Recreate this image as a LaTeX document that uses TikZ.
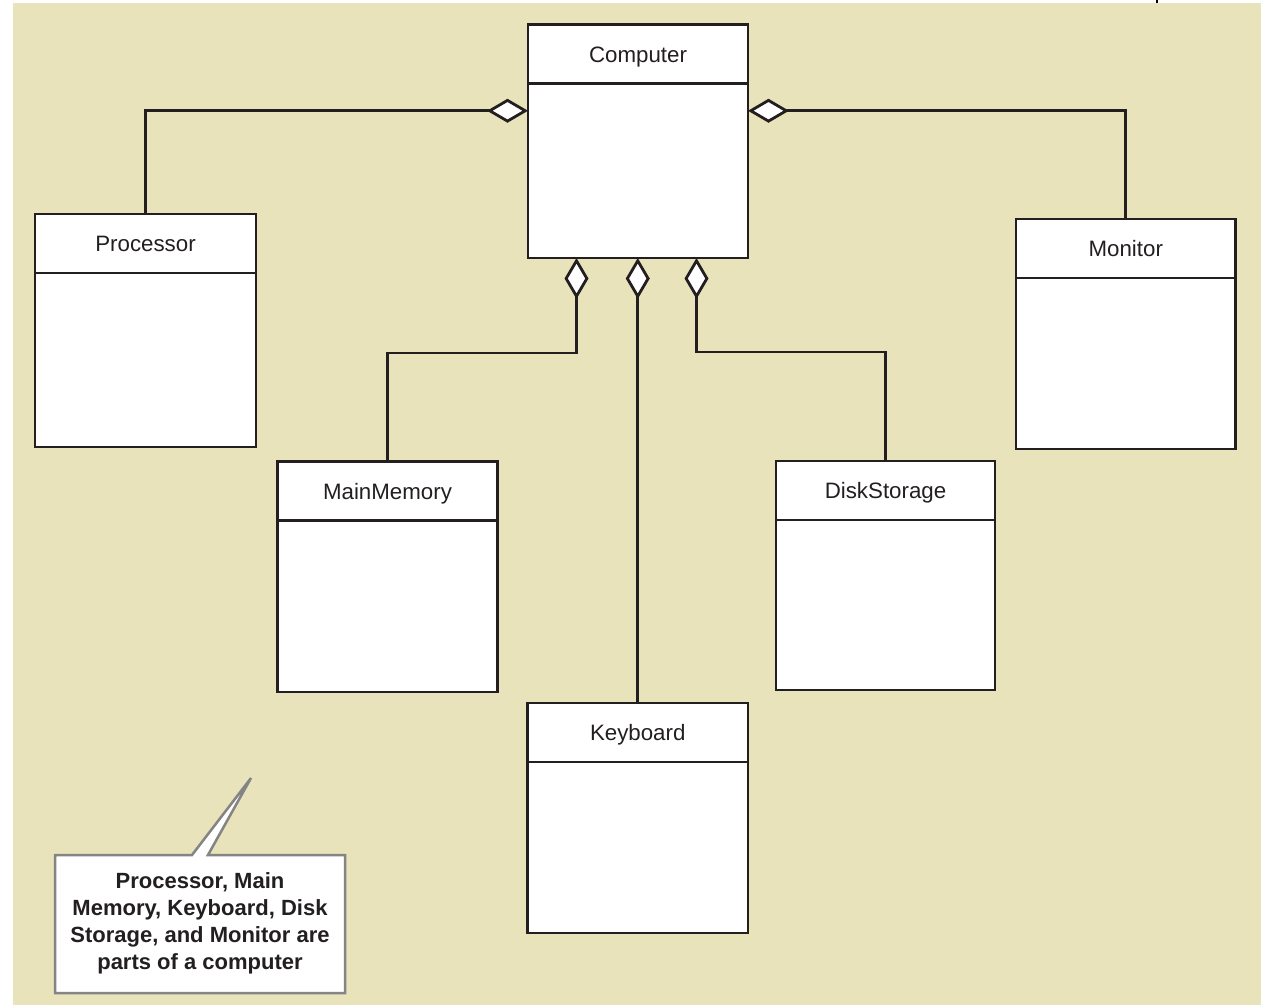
\documentclass[tikz,border=0pt]{standalone}
\usepackage{fontspec}
\setmainfont{Liberation Sans}
\usetikzlibrary{arrows.meta}
\definecolor{bg}{RGB}{232,227,187}
\definecolor{notegray}{RGB}{132,132,132}
\definecolor{ink}{RGB}{35,31,32}
\newcommand\umlclass[6]{%
  \node[classbox, minimum width=#4pt, minimum height=#5pt] (#1) at (#2,#3) {};
  \draw[ink, line width=2.8pt] ([yshift=-59pt]#1.north west) -- ([yshift=-59pt]#1.north east);
  \node[classtitle] (#1-t) at ([yshift=-37.5pt]#1.north) {#6};
}
\begin{document}
\begin{tikzpicture}[x=1pt,y=-1pt,
  classbox/.style={draw=ink, line width=2.8pt, fill=white, anchor=north west, inner sep=0pt, outer sep=0pt},
  classtitle/.style={font=\fontsize{22.3}{25}\selectfont, text=ink, anchor=base, inner sep=0pt},
  agg/.style={draw=ink, line width=2.8pt, line join=miter,
    -{Diamond[length=41pt, width=24pt, fill=white, line join=miter]}},
  notetext/.style={font=\bfseries\fontsize{22}{27}\selectfont, text=ink, align=center, inner sep=0pt}
]
\useasboundingbox (0,0) rectangle (1261,1005);
\fill[bg] (13,3) rectangle (1261,1005);
\draw[black, line width=1.5pt] (1157,0) -- (1157,3);

\umlclass{computer}{528}{24.5}{220}{233.5}{Computer}
\umlclass{processor}{35}{214}{221}{233}{Processor}
\umlclass{monitor}{1016}{219}{219.5}{230}{Monitor}
\umlclass{mainmemory}{277.5}{461.5}{220}{230.5}{MainMemory}
\umlclass{diskstorage}{776}{461}{219}{229}{DiskStorage}
\umlclass{keyboard}{527.5}{703}{220.5}{230}{Keyboard}

\coordinate (cwjoin) at ([yshift=30.5pt]computer.west);
\coordinate (cejoin) at ([yshift=30.5pt]computer.east);
\coordinate (mmjoin) at (576.5,353);
\coordinate (dsjoin) at (696.5,352);

\draw[agg] (processor.north) |- (cwjoin);
\draw[agg] (monitor.north) |- (cejoin);
\draw[agg] (mainmemory.north) |- (mmjoin) -- (mmjoin |- computer.south);
\draw[agg] (diskstorage.north) |- (dsjoin) -- (dsjoin |- computer.south);
\draw[agg] (keyboard.north) -- (keyboard.north |- computer.south);

\filldraw[fill=white, draw=notegray, line width=2.5pt, line join=miter]
  (55,855) -- (192,855) -- (251,778) -- (208,855) -- (345,855) -- (345,993) -- (55,993) -- cycle;
\node[notetext] (note) at (200,923) {Processor, Main\\Memory, Keyboard, Disk\\Storage, and Monitor are\\parts of a computer};
\end{tikzpicture}
\end{document}
